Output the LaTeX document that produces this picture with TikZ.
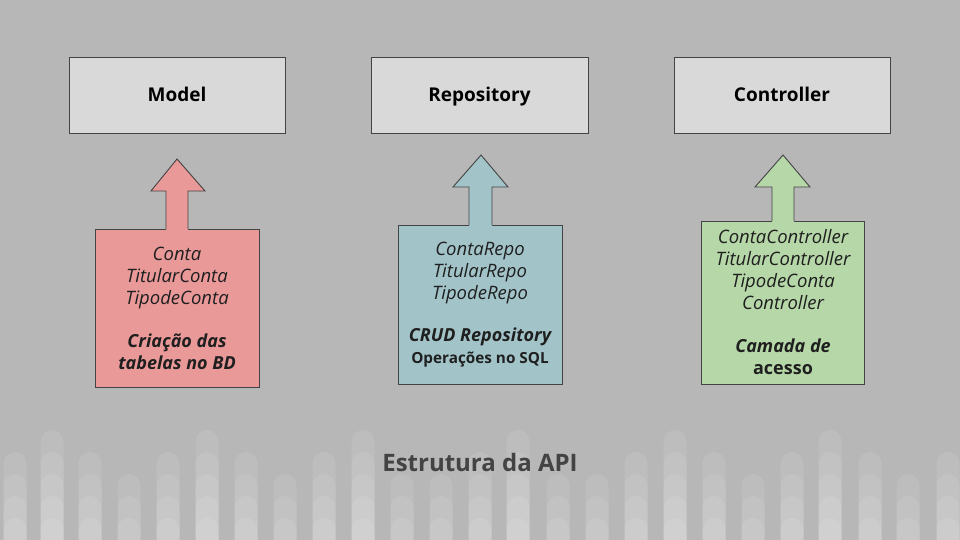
\documentclass[tikz,border=0pt]{standalone}
\usepackage{fontspec}
\setmainfont{Open Sans}
\definecolor{bg}{HTML}{B7B7B7}
\definecolor{topfill}{HTML}{D9D9D9}
\definecolor{edge}{HTML}{434343}
\definecolor{redfill}{HTML}{EA9999}
\definecolor{bluefill}{HTML}{A2C4C9}
\definecolor{greenfill}{HTML}{B6D7A8}
\definecolor{txt}{HTML}{1F1F1F}
\definecolor{titlecol}{HTML}{434343}
\tikzset{
  layerbox/.style={draw=edge, line width=0.9pt, fill=topfill, minimum width=216pt, minimum height=76pt, inner sep=0pt,
    text height=14pt, text depth=0pt, font=\fontsize{19}{22}\selectfont\bfseries, text=black},
  itembox/.style={draw=edge, line width=0.9pt, minimum width=164pt, inner sep=0pt, align=center,
    font=\fontsize{18.5}{22}\selectfont, text=txt},
  arrowfill/.style={fill=#1},
  arrowedge/.style={draw=edge, line width=0.9pt, line join=miter},
  barlayer/.style={fill=white, fill opacity=0.09, rounded corners=11.5pt}
}
\newcommand{\bldit}{\fontsize{18}{21}\selectfont\bfseries\itshape}
\newcommand{\bldup}{\fontsize{18}{21}\selectfont\bfseries}
\begin{document}
\begin{tikzpicture}[x=1pt, y=-1pt]
\useasboundingbox (0,0) rectangle (960,540);
\fill[bg] (0,0) rectangle (960,540);
% decorative bars
\begin{scope}
\clip (0,0) rectangle (960,540);
\foreach \bx/\bt in {15/452, 52/430, 90/452, 129/474, 168/452, 207/430, 246/452, 285/474, 324/452, 363/430, 402/474, 441/474, 480/452, 518/430, 558/474, 597/474, 636/452, 675/430, 714/452, 753/474, 792/452, 830/430, 870/452, 908/474, 948/452} {
  \foreach \lv in {430,452,474,496,518} {
    \ifnum\lv<\bt\relax\else
      \fill[barlayer] (\bx-11.5,\lv) rectangle (\bx+11.5,570);
    \fi
  }
}
\end{scope}
% top layer boxes
\node[layerbox] (model) at (177,95) {Model};
\node[layerbox, minimum width=217pt] (repo) at (479.5,95) {Repository};
\node[layerbox] (ctrl) at (782,95) {Controller};
% lower boxes
\node[itembox, fill=redfill, minimum height=158pt] (mbox) at (177,308)
  {{\itshape Conta}\\{\itshape TitularConta}\\{\itshape TipodeConta}\\[21pt]
   {\bldit Criação das}\\{\bldit tabelas no BD}};
\node[itembox, fill=bluefill, minimum height=159pt] (rbox) at (480,304.5)
  {{\itshape ContaRepo}\\{\itshape TitularRepo}\\{\itshape TipodeRepo}\\[20pt]
   {\bldit CRUD Repository}\\{\fontsize{15.3}{19}\selectfont\bfseries Operações no SQL}};
\node[itembox, fill=greenfill, minimum width=163pt, minimum height=163pt] (cbox) at (783,302.5)
  {{\itshape ContaController}\\{\itshape TitularController}\\{\itshape TipodeConta}\\{\itshape Controller}\\[21pt]
   {\bldit Camada de}\\{\bldup acesso}};
% arrows (from each lower box up towards its layer)
\coordinate (mtip) at (177,159);
\coordinate (rtip) at (481,155);
\coordinate (ctip) at (783,155);
\fill[arrowfill=redfill] (166,230) -- (166,191) -- (151,191) -- (mtip) -- (205,191) -- (188,191) -- (188,230) -- cycle;
\draw[arrowedge] (166,229) -- (166,191) -- (151,191) -- (mtip) -- (205,191) -- (188,191) -- (188,229);
\fill[arrowfill=bluefill] (469,226) -- (469,187) -- (453,187) -- (rtip) -- (508,187) -- (492,187) -- (492,226) -- cycle;
\draw[arrowedge] (469,225) -- (469,187) -- (453,187) -- (rtip) -- (508,187) -- (492,187) -- (492,225);
\fill[arrowfill=greenfill] (772,222) -- (772,187) -- (755,187) -- (ctip) -- (810,187) -- (794,187) -- (794,222) -- cycle;
\draw[arrowedge] (772,221) -- (772,187) -- (755,187) -- (ctip) -- (810,187) -- (794,187) -- (794,221);
% title
\node[font=\fontsize{24}{30}\selectfont\bfseries, text=titlecol, inner sep=0pt] (title) at (480,462) {Estrutura da API};
\end{tikzpicture}
\end{document}
